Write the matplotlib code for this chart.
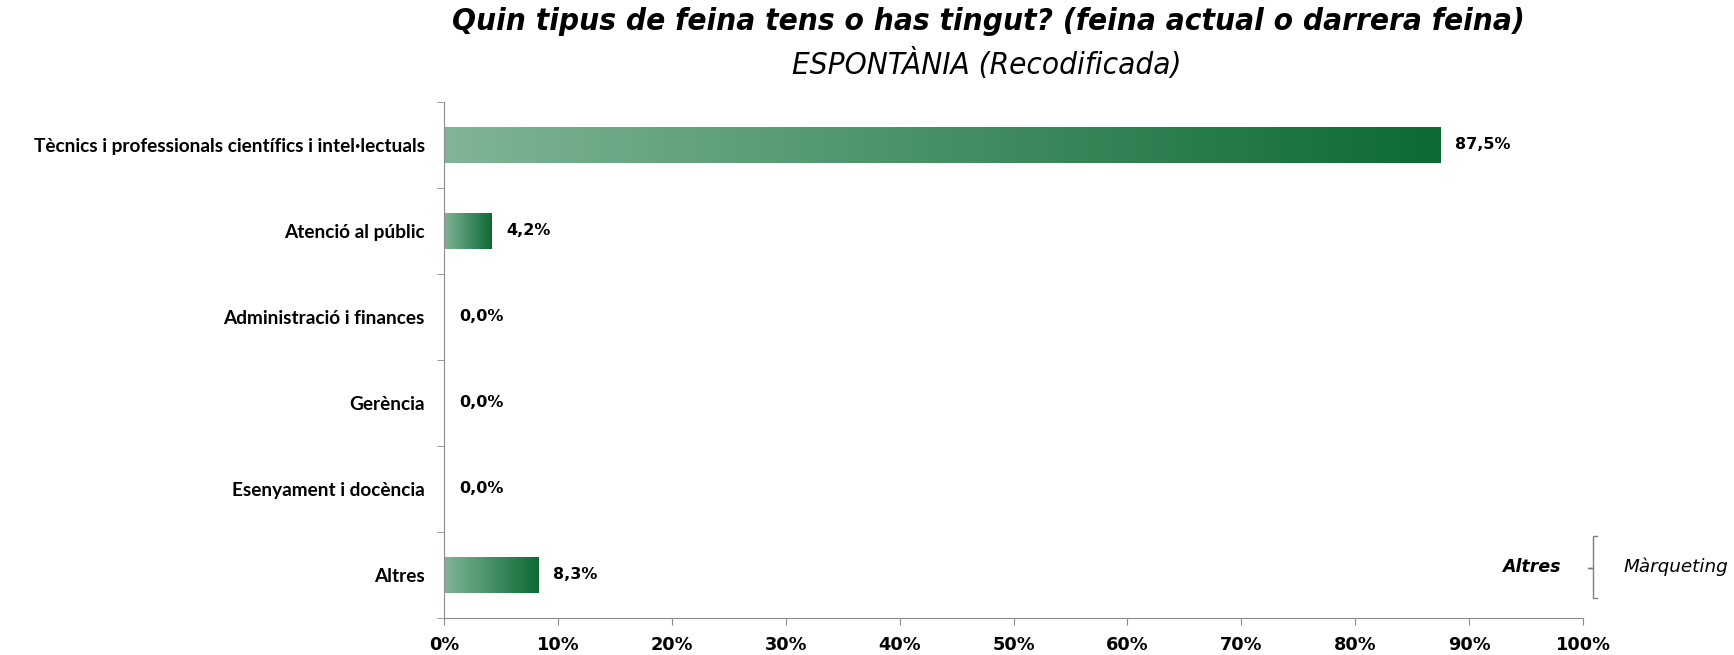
import matplotlib
matplotlib.use("Agg")
import matplotlib.pyplot as plt
import numpy as np
from matplotlib.colors import LinearSegmentedColormap
from matplotlib.lines import Line2D

categories = ["Tècnics i professionals científics i intel·lectuals",
              "Atenció al públic",
              "Administració i finances",
              "Gerència",
              "Esenyament i docència",
              "Altres"]
values = [87.5, 4.2, 0.0, 0.0, 0.0, 8.3]
xticks = [0, 10, 20, 30, 40, 50, 60, 70, 80, 90, 100]

title = "Quin tipus de feina tens o has tingut? (feina actual o darrera feina)"
subtitle = "ESPONTÀNIA (Recodificada)"
note_label = "Altres"
note_text = "Màrqueting"

green = LinearSegmentedColormap.from_list("grn", ["#80b595", "#0c6a35"])
grey = "#8c8c8c"

fig = plt.figure(figsize=(17.34, 6.55), dpi=100)
ax = fig.add_axes([0.2561, 0.0565, 0.6568, 0.7878])

y = np.arange(len(categories))
bars = ax.barh(y, values, height=0.41, color="none")
grad = np.linspace(0, 1, 256).reshape(1, -1)
for b in bars:
    x0, y0 = b.get_x(), b.get_y()
    w, h = b.get_width(), b.get_height()
    if w > 0:
        ax.imshow(grad, cmap=green, aspect="auto", extent=(x0, x0 + w, y0 + h, y0),
                  interpolation="bicubic", zorder=2)

for yi, v in zip(y, values):
    ax.text(v + 1.3, yi, f"{v:.1f}%".replace(".", ","), va="center", ha="left",
            fontsize=11.5, fontweight="bold", family="DejaVu Sans")

ax.set_xlim(0, 100)
ax.set_ylim(len(categories) - 0.5, -0.5)
ax.set_xticks(xticks)
ax.set_xticklabels([f"{t}%" for t in xticks], fontsize=12.8, fontweight="bold",
                   family="DejaVu Sans")
ax.set_yticks(y)
ax.set_yticklabels(categories, fontsize=13.7, fontweight="bold", family="Lato")
ax.set_yticks(np.arange(-0.5, len(categories), 1.0), minor=True)
ax.tick_params(axis="y", which="major", length=0, pad=14)
ax.tick_params(axis="y", which="minor", length=5, color=grey, direction="out")
ax.tick_params(axis="x", length=5, color=grey, direction="out", pad=8)

for s in ["top", "right"]:
    ax.spines[s].set_visible(False)
for s in ["left", "bottom"]:
    ax.spines[s].set_color(grey)

fig.text(0.570, 0.990, title, ha="center", va="top", fontsize=22.6,
         fontweight="bold", style="italic", family="DejaVu Sans", fontstretch="condensed")
fig.text(0.569, 0.926, subtitle, ha="center", va="top", fontsize=22.5,
         style="italic", family="DejaVu Sans", fontstretch="condensed")

fig.text(0.9002, 0.1344, note_label, ha="right", va="center", fontsize=12.5,
         fontweight="bold", style="italic", family="DejaVu Sans")
fig.text(0.936, 0.1344, note_text, ha="left", va="center", fontsize=13.2,
         style="italic", family="DejaVu Sans")
bx, by = [0.9210, 0.9187, 0.9187, 0.9158, 0.9187, 0.9187, 0.9210], \
         [0.1817, 0.1817, 0.1328, 0.1328, 0.1328, 0.0870, 0.0870]
fig.add_artist(Line2D(bx, by, color="#7f7f7f", lw=1, transform=fig.transFigure))

fig.savefig("out.png", dpi=100)
